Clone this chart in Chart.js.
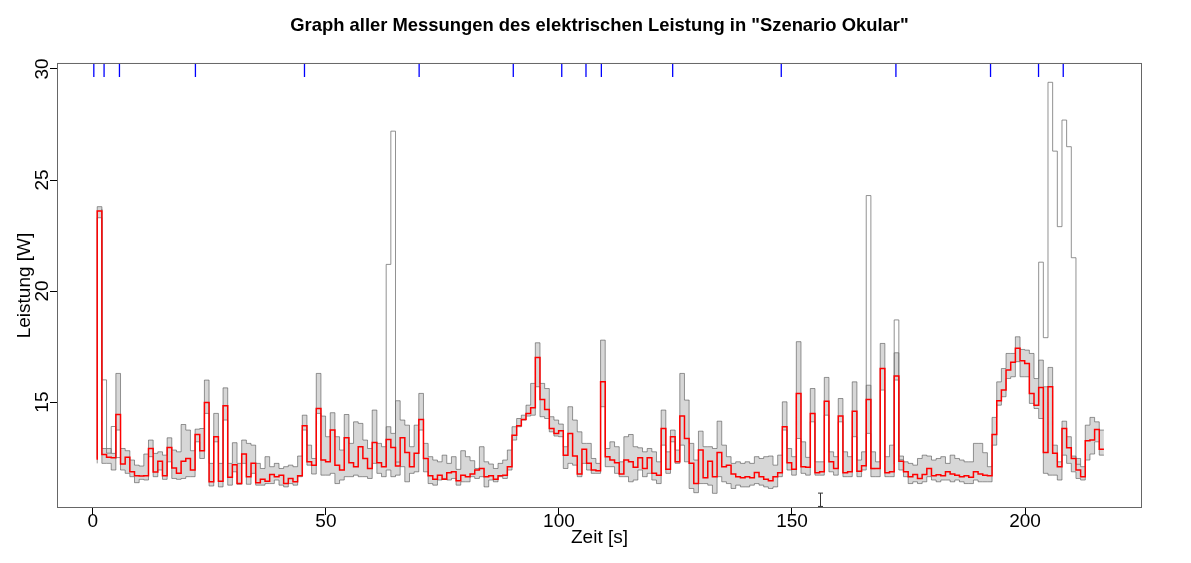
<!DOCTYPE html>
<html>
<head>
<meta charset="utf-8">
<script src="https://cdn.jsdelivr.net/npm/chart.js@4"></script>
<style>
  html, body { margin: 0; padding: 0; background: #fff; }
  canvas { display: block; }
</style>
</head>
<body>
<canvas id="myChart" width="1191" height="563"></canvas>
<script>
// Zeitraster: erster Punkt bei t0, danach ein Wert pro Sekunde
const t0 = 0.93;
const startMean = 12.4, startHi = 12.46, startLo = 12.24;

// Mittelwert aller Messungen (rot)
const meanW = [
  23.6, 12.64, 12.52, 12.49, 14.44, 12.21, 12.52, 11.86, 11.68, 11.67,
  11.68, 12.91, 11.85, 12.34, 11.68, 12.96, 12.03, 11.79, 12.34, 12.46,
  11.94, 13.54, 12.81, 14.98, 11.41, 13.44, 11.44, 14.83, 11.61, 12.18,
  11.33, 12.66, 11.64, 12.24, 11.37, 11.53, 11.44, 11.74, 11.64, 11.71,
  11.33, 11.56, 11.41, 11.68, 13.93, 12.31, 12.16, 14.71, 12.39, 12.31,
  13.74, 12.16, 11.94, 13.39, 12.27, 12.09, 12.99, 12.46, 12.01, 13.18,
  12.27, 12.09, 13.32, 12.96, 12.12, 13.39, 12.73, 12.09, 12.69, 14.22,
  12.46, 11.68, 11.53, 11.71, 11.52, 11.82, 11.86, 11.46, 11.71, 11.64,
  11.76, 11.94, 12.01, 11.64, 11.68, 11.53, 11.68, 11.71, 12.09, 13.51,
  13.93, 14.22, 14.49, 14.74, 17.01, 15.12, 14.67, 13.81, 13.59, 13.71,
  12.61, 13.59, 12.57, 11.76, 12.87, 12.24, 11.94, 11.91, 15.91, 12.54,
  12.39, 12.27, 11.76, 12.39, 12.31, 12.06, 12.49, 12.01, 12.49, 11.79,
  11.71, 13.81, 11.97, 13.44, 12.31, 14.37, 13.36, 12.24, 11.33, 12.84,
  11.59, 12.34, 11.64, 12.73, 12.09, 12.16, 11.76, 11.64, 11.59, 11.64,
  11.59, 11.83, 11.64, 11.52, 11.46, 11.64, 11.82, 13.89, 12.27, 11.97,
  15.39, 12.09, 12.06, 14.49, 11.82, 11.86, 15.04, 12.31, 12.01, 14.37,
  11.82, 11.86, 14.59, 11.89, 12.13, 15.12, 12.01, 12.01, 16.51, 11.82,
  11.86, 16.17, 12.34, 11.86, 11.64, 11.74, 11.56, 11.74, 12.01, 11.68,
  11.73, 11.68, 11.86, 11.76, 11.71, 11.64, 11.68, 11.61, 11.86, 11.76,
  11.71, 11.68, 13.54, 15.06, 15.54, 16.44, 16.79, 17.42, 16.86, 16.74,
  15.39, 14.86, 15.66, 12.73, 15.69, 12.69, 12.09, 13.81, 12.94, 12.46,
  11.94, 11.64, 13.26, 13.29, 13.77, 12.87
];

// obere Grenze der Einzelmessungen
const hiW = [
  23.8, 12.91, 12.91, 12.69, 16.29, 12.91, 12.81, 12.39, 12.16, 12.12,
  12.66, 13.29, 12.69, 12.76, 12.61, 13.39, 12.84, 12.76, 13.99, 13.74,
  12.81, 13.78, 13.81, 15.99, 12.24, 14.49, 12.24, 15.64, 12.24, 13.17,
  12.24, 13.29, 13.14, 13.06, 12.24, 12.01, 12.54, 12.09, 12.24, 12.01,
  12.09, 12.16, 12.09, 12.57, 14.41, 13.06, 12.46, 16.29, 14.37, 13.44,
  14.52, 13.44, 12.84, 14.44, 13.14, 14.11, 14.04, 13.29, 12.91, 14.64,
  13.14, 12.99, 13.89, 13.59, 15.06, 14.19, 13.96, 12.99, 13.96, 15.39,
  13.14, 12.54, 12.39, 12.31, 12.61, 12.24, 12.54, 11.97, 12.81, 12.54,
  12.36, 12.01, 12.99, 12.31, 12.21, 12.01, 12.24, 12.39, 12.84, 13.89,
  14.26, 14.41, 14.86, 15.84, 17.67, 15.84, 15.61, 14.34, 14.19, 14.01,
  12.99, 14.79, 14.19, 13.66, 13.14, 13.14, 12.46, 12.24, 17.79, 12.91,
  13.21, 12.99, 12.31, 13.44, 13.54, 12.99, 12.94, 12.76, 12.91, 12.76,
  12.31, 14.64, 12.76, 13.74, 12.84, 16.29, 15.09, 13.14, 12.39, 13.69,
  12.99, 12.99, 12.91, 14.14, 13.06, 12.54, 12.24, 12.31, 12.24, 12.31,
  12.24, 12.54, 12.46, 12.54, 12.57, 12.16, 12.61, 15.01, 12.91, 12.54,
  17.72, 13.21, 12.51, 15.61, 12.31, 12.31, 16.11, 12.76, 12.54, 15.16,
  12.76, 12.54, 15.91, 12.39, 12.76, 15.76, 12.76, 12.31, 17.64, 12.54,
  13.06, 17.22, 12.57, 12.31, 12.24, 12.16, 12.46, 12.61, 12.57, 12.39,
  12.46, 12.54, 12.24, 12.61, 12.46, 12.39, 12.31, 12.31, 13.14, 13.14,
  12.72, 12.09, 14.31, 15.91, 16.51, 17.19, 17.19, 17.94, 17.37, 17.34,
  17.19, 16.06, 16.89, 15.69, 16.56, 13.06, 12.31, 14.14, 13.44, 12.57,
  12.46, 12.09, 13.96, 14.31, 14.11, 13.74
];

// untere Grenze der Einzelmessungen
const loW = [
  23.3, 12.24, 12.24, 11.94, 13.74, 11.94, 11.79, 11.64, 11.37, 11.52,
  11.49, 12.54, 11.64, 11.94, 11.52, 12.31, 11.56, 11.52, 11.56, 11.64,
  11.64, 13.21, 12.46, 14.49, 11.22, 13.21, 11.18, 14.19, 11.26, 11.86,
  11.30, 12.24, 11.30, 11.79, 11.26, 11.26, 11.33, 11.33, 11.49, 11.26,
  11.18, 11.33, 11.26, 11.64, 13.74, 12.16, 11.76, 14.49, 11.71, 11.71,
  11.79, 11.33, 11.49, 11.64, 11.64, 11.71, 11.64, 11.64, 11.56, 12.24,
  11.79, 11.64, 11.94, 11.64, 11.71, 12.09, 11.41, 11.79, 11.86, 13.74,
  11.86, 11.33, 11.26, 11.49, 11.56, 11.49, 11.56, 11.26, 11.41, 11.41,
  11.64, 11.56, 11.64, 11.18, 11.49, 11.41, 11.64, 11.56, 11.94, 13.29,
  13.89, 14.19, 14.37, 14.41, 15.69, 14.34, 14.26, 13.66, 13.47, 13.44,
  12.01, 12.24, 12.16, 11.64, 12.24, 11.94, 11.79, 11.79, 14.79, 12.09,
  12.09, 11.79, 11.64, 11.64, 11.41, 11.49, 11.94, 11.64, 11.79, 11.49,
  11.33, 13.06, 11.79, 13.21, 12.24, 13.06, 12.31, 11.11, 10.92, 11.33,
  11.33, 11.26, 10.89, 11.64, 11.41, 11.33, 11.11, 11.26, 11.18, 11.18,
  11.26, 11.33, 11.26, 11.18, 11.11, 11.18, 11.64, 13.74, 11.94, 11.71,
  13.36, 11.79, 11.71, 14.11, 11.71, 11.71, 14.41, 11.86, 11.71, 14.11,
  11.64, 11.64, 13.44, 11.64, 11.94, 13.59, 11.64, 11.64, 15.54, 11.64,
  11.64, 15.99, 11.94, 11.64, 11.33, 11.41, 11.33, 11.41, 11.64, 11.49,
  11.41, 11.49, 11.49, 11.41, 11.49, 11.41, 11.33, 11.33, 11.49, 11.41,
  11.41, 11.41, 13.06, 14.86, 15.24, 16.06, 16.14, 16.82, 16.14, 16.14,
  14.94, 14.71, 14.26, 11.79, 11.71, 11.71, 11.49, 12.61, 12.24, 11.86,
  11.56, 11.49, 12.39, 12.66, 13.21, 12.61
];

// einzelne Ausreisser-Messungen: Startindex im Raster + Werte
const outAStart = 0,   outA = [23.7, 16.0, 12.7, 13.9, 12.5];
const outBStart = 61,  outB = [12.1, 21.2, 27.2, 12.3];
const outCStart = 164, outC = [12.1, 24.3, 12.0];
const outDStart = 170, outD = [12.2, 18.7, 12.4];
const outEStart = 201, outE = [15.0, 21.3, 17.9, 29.4, 26.3, 22.9, 27.7, 26.5, 21.5, 12.2];

// Markierungen oben (blau) und Fehlerbalken
const rugTimes = [0.2, 2.4, 5.7, 22.0, 45.4, 70.0, 90.2, 100.6, 105.8, 109.1, 124.4, 147.7, 172.3, 192.6, 202.9, 208.2];
const errT = 156, errLo = 10.3, errHi = 10.9;

const xTicks = [0, 50, 100, 150, 200];
const yTicks = [15, 20, 25, 30];

function steps(start, vals) {
  return [{x: t0, y: start}].concat(vals.map((v, i) => ({x: t0 + 1 + i, y: v})));
}
function run(startIdx, vals) {
  return vals.map((v, i) => ({x: t0 + 1 + startIdx + i, y: v}));
}

const font = 'Liberation Sans';
const greyLine = 'rgba(70,70,70,0.55)';
const outColor = 'rgba(110,110,110,0.75)';

const overlay = {
  id: 'overlay',
  afterDatasetsDraw(chart) {
    const {ctx, chartArea: a, scales: {x, y}} = chart;
    ctx.save();
    // blaue Striche am oberen Rand
    ctx.strokeStyle = '#0000ff';
    ctx.lineWidth = 1.3;
    rugTimes.forEach(t => {
      const px = x.getPixelForValue(t);
      ctx.beginPath();
      ctx.moveTo(px, a.top);
      ctx.lineTo(px, a.top + 14);
      ctx.stroke();
    });
    ctx.lineWidth = 1;
    // Fehlerbalken
    const ex = Math.round(x.getPixelForValue(errT)) + 0.5;
    const e1 = y.getPixelForValue(errLo), e2 = y.getPixelForValue(errHi);
    ctx.strokeStyle = '#333';
    ctx.beginPath();
    ctx.moveTo(ex, e1); ctx.lineTo(ex, e2);
    ctx.moveTo(ex - 2.5, e1); ctx.lineTo(ex + 2.5, e1);
    ctx.moveTo(ex - 2.5, e2); ctx.lineTo(ex + 2.5, e2);
    ctx.stroke();
    // Rahmen
    ctx.strokeStyle = '#666';
    ctx.strokeRect(a.left + 0.5, a.top + 0.5, a.right - a.left - 1, a.bottom - a.top - 1);
    ctx.restore();
  }
};

const base = {stepped: 'after', pointRadius: 0, borderWidth: 1, fill: false};

var ctx = document.getElementById('myChart').getContext('2d');
var myChart = new Chart(ctx, {
  type: 'line',
  data: {
    datasets: [
      Object.assign({}, base, {label: 'Mittelwert', data: steps(startMean, meanW), borderColor: '#ff0000', borderWidth: 1.5, order: 0}),
      Object.assign({}, base, {label: 'max', data: steps(startHi, hiW), borderColor: greyLine, order: 2}),
      Object.assign({}, base, {label: 'min', data: steps(startLo, loW), borderColor: greyLine, order: 2,
        fill: '-1', backgroundColor: 'rgba(110,110,110,0.28)'}),
      Object.assign({}, base, {label: 'A', data: run(outAStart, outA), borderColor: outColor, order: 1}),
      Object.assign({}, base, {label: 'B', data: run(outBStart, outB), borderColor: outColor, order: 1}),
      Object.assign({}, base, {label: 'C', data: run(outCStart, outC), borderColor: outColor, order: 1}),
      Object.assign({}, base, {label: 'D', data: run(outDStart, outD), borderColor: outColor, order: 1}),
      Object.assign({}, base, {label: 'E', data: run(outEStart, outE), borderColor: outColor, order: 1})
    ]
  },
  options: {
    responsive: false,
    animation: false,
    layout: {padding: {left: 8, right: 0, top: 0, bottom: 0}},
    plugins: {
      legend: {display: false},
      tooltip: {enabled: false},
      title: {
        display: true,
        text: 'Graph aller Messungen des elektrischen Leistung in "Szenario Okular"',
        color: '#000',
        font: {family: font, size: 18.4, weight: 'bold'},
        padding: {top: 15, bottom: 25.9}
      }
    },
    scales: {
      x: {
        type: 'linear',
        min: -7.7,
        max: 225.1,
        afterBuildTicks: s => { s.ticks = xTicks.map(v => ({value: v})); },
        afterFit: s => { s.height = 55; },
        grid: {drawOnChartArea: false, tickLength: 7, color: '#000'},
        border: {display: false},
        ticks: {color: '#000', font: {family: font, size: 19}, padding: -5, maxRotation: 0, autoSkip: false},
        title: {display: true, text: 'Zeit [s]', color: '#000', font: {family: font, size: 19}, padding: {top: 0, bottom: 13.6}}
      },
      y: {
        min: 10.23,
        max: 30.27,
        afterBuildTicks: s => { s.ticks = yTicks.map(v => ({value: v})); },
        afterFit: s => { s.width = 49; },
        grid: {drawOnChartArea: false, tickLength: 7, color: '#000'},
        border: {display: false},
        ticks: {color: '#000', font: {family: font, size: 19}, minRotation: 90, maxRotation: 90, crossAlign: 'center', padding: -3.6, autoSkip: false},
        title: {display: true, text: 'Leistung [W]', color: '#000', font: {family: font, size: 19}, padding: {top: 5.6, bottom: 0}}
      },
      y2: {
        position: 'right',
        display: true,
        grid: {display: false},
        ticks: {display: false},
        border: {display: false},
        afterFit: s => { s.width = 49; }
      }
    }
  },
  plugins: [overlay]
});
</script>
</body>
</html>
